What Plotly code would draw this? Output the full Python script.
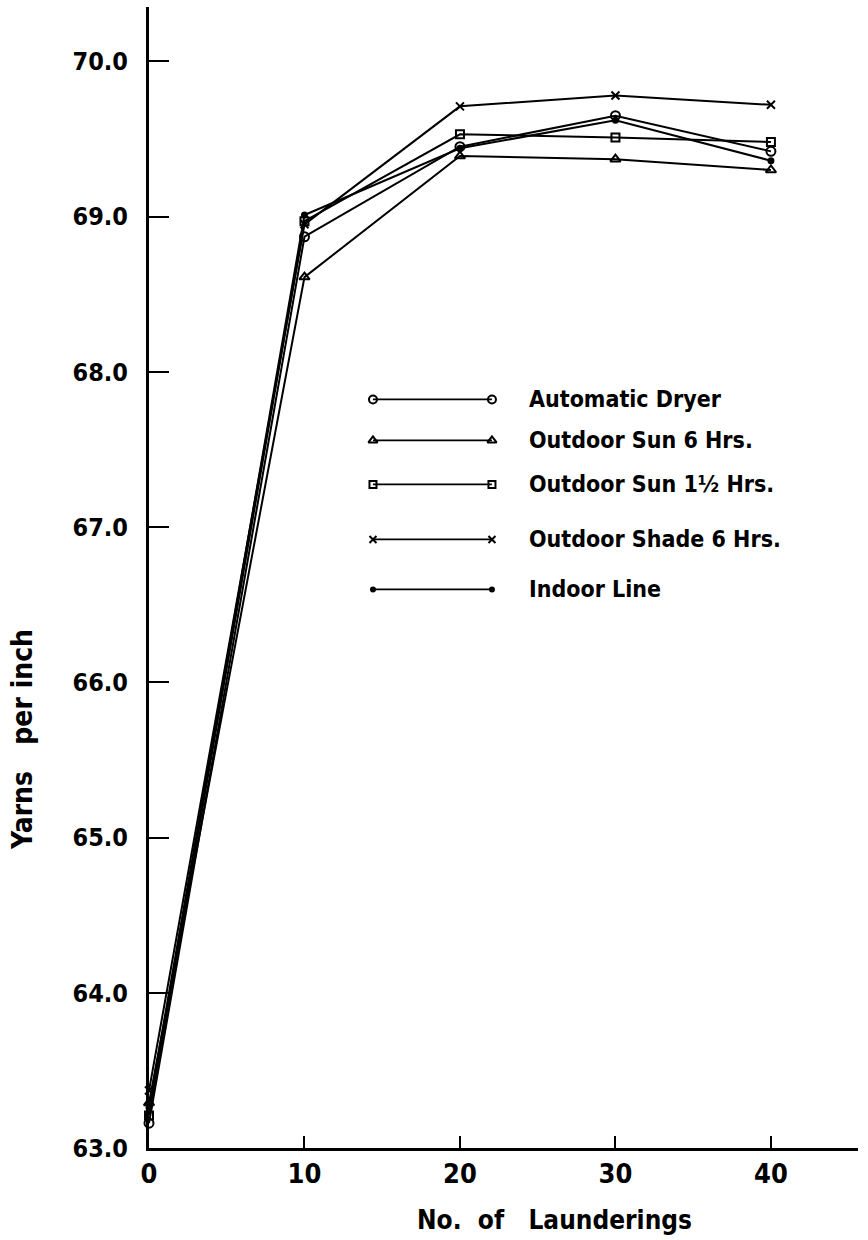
import plotly.graph_objects as go

launderings = [0, 10, 20, 30, 40]
series_names = ["Automatic Dryer", "Outdoor Sun 6 Hrs.", "Outdoor Sun 1½ Hrs.",
                "Outdoor Shade 6 Hrs.", "Indoor Line"]
automatic_dryer = [63.16, 68.87, 69.45, 69.65, 69.42]
outdoor_sun_6 = [63.29, 68.61, 69.39, 69.37, 69.30]
outdoor_sun_1_5 = [63.21, 68.97, 69.53, 69.51, 69.48]
outdoor_shade_6 = [63.37, 68.95, 69.71, 69.78, 69.72]
indoor_line = [63.26, 69.01, 69.44, 69.62, 69.36]
y_ticks = [63.0, 64.0, 65.0, 66.0, 67.0, 68.0, 69.0, 70.0]
x_ticks = [0, 10, 20, 30, 40]

all_series = [automatic_dryer, outdoor_sun_6, outdoor_sun_1_5, outdoor_shade_6, indoor_line]
symbols = ["circle-open", "triangle-up-open", "square-open", "x-thin-open", "circle"]
sizes = [9, 9, 8, 8, 5]

FONT = "DejaVu Sans Condensed, sans-serif"

fig = go.Figure()
for name, vals, sym, sz in zip(series_names, all_series, symbols, sizes):
    fig.add_trace(go.Scatter(
        x=launderings, y=vals, mode="lines+markers", name=name,
        line=dict(color="black", width=2),
        marker=dict(symbol=sym, size=sz, color="black",
                    line=dict(color="black", width=2)),
        showlegend=False, hoverinfo="skip", cliponaxis=False))

legend_rows_px = [400, 441, 485, 540, 590]
def px_to_y(py):
    return 70.0 - (py - 62) / 155.2
def px_to_x(px):
    return (px - 149) / 15.55

for name, sym, sz, py in zip(series_names, symbols, sizes, legend_rows_px):
    yv = px_to_y(py)
    fig.add_trace(go.Scatter(
        x=[px_to_x(373), px_to_x(492)], y=[yv, yv], mode="lines+markers",
        line=dict(color="black", width=1.8),
        marker=dict(symbol=sym, size=sz - 1, color="black",
                    line=dict(color="black", width=2)),
        showlegend=False, hoverinfo="skip"))
    fig.add_annotation(x=px_to_x(527), y=yv, text=name, showarrow=False,
                       xanchor="left", yanchor="middle",
                       font=dict(family=FONT, size=23, color="black", weight="bold"))

fig.add_annotation(xref="paper", yref="paper", x=(554 - 149) / 709, y=-(1220 - 1148) / 1141,
                   text="No.  of   Launderings", showarrow=False,
                   xanchor="center", yanchor="middle",
                   font=dict(family=FONT, size=26, color="black", weight="bold"))
fig.add_annotation(xref="paper", yref="paper", x=-(149 - 22) / 709, y=(1148 - 740) / 1141,
                   text="Yarns   per inch", showarrow=False, textangle=-90,
                   xanchor="center", yanchor="middle",
                   font=dict(family=FONT, size=28, color="black", weight="bold"))

fig.update_layout(
    width=868, height=1240,
    margin=dict(l=149, r=10, t=7, b=92),
    paper_bgcolor="white", plot_bgcolor="white",
    font=dict(family=FONT, color="black"),
    xaxis=dict(range=[0, 45.6], tickvals=x_ticks, ticktext=[str(v) for v in x_ticks],
               ticks="inside", ticklen=12, tickwidth=2, tickcolor="black",
               showline=True, linewidth=3, linecolor="black",
               showgrid=False, zeroline=False,
               tickfont=dict(family=FONT, size=27, weight="bold")),
    yaxis=dict(range=[63.0, 70.35], tickvals=y_ticks,
               ticktext=[f"{v:.1f}" for v in y_ticks],
               ticks="inside", ticklen=20, tickwidth=2, tickcolor="black",
               showline=True, linewidth=3, linecolor="black",
               showgrid=False, zeroline=False, ticklabelstandoff=13,
               tickfont=dict(family=FONT, size=25, weight="bold")),
)

fig.write_html("out.html")
